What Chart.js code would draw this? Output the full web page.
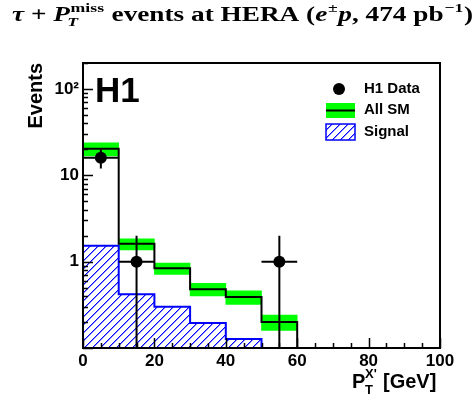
<!DOCTYPE html>
<html>
<head>
<meta charset="utf-8">
<script src="https://cdn.jsdelivr.net/npm/chart.js@4.4.1/dist/chart.umd.min.js"></script>
<style>
  html, body { margin: 0; padding: 0; background: #fff; }
  canvas { display: block; }
</style>
</head>
<body>
<canvas id="chart" width="476" height="400"></canvas>
<script>
// histogram bins (GeV) and values
const binEdges = [0, 10, 20, 30, 40, 50, 60];
const smValues = [20.3, 1.61, 0.84, 0.48, 0.39, 0.20];
const smBandLow = [16.8, 1.37, 0.71, 0.40, 0.32, 0.16];
const smBandHigh = [23.8, 1.84, 0.96, 0.56, 0.46, 0.24];
const signalValues = [1.53, 0.42, 0.30, 0.195, 0.127, 0.1];

// H1 data points
const dataX = [5, 15, 55];
const dataY = [16, 1, 1];
const dataXErr = [5, 5, 5];
const dataErrLow = [4, 1, 1];
const dataErrHigh = [4, 1, 1];

// axes
const xMin = 0, xMax = 100;
const yMin = 0.1, yMax = 200;
const xTickLabels = [0, 20, 40, 60, 80, 100];
const yTickLabels = [1, 10, 100];

const FONT = "'Liberation Sans', Arial, Helvetica, sans-serif";
const SERIF = "'Liberation Serif', 'Times New Roman', serif";

// blue "/" hatch, drawn pixel by pixel so it stays crisp
function makeHatch() {
  const s = 8;
  const c = document.createElement('canvas');
  c.width = s; c.height = s;
  const g = c.getContext('2d');
  for (let i = 0; i < s; i++) {
    g.fillStyle = '#0000ff';
    g.fillRect(i, s - 1 - i, 1, 1);
    g.fillStyle = 'rgba(0,0,255,0.45)';
    g.fillRect((i + 1) % s, s - 1 - i, 1, 1);
  }
  return g.createPattern(c, 'repeat');
}
const hatch = makeHatch();

// bin values -> outline points for a stepped line
function stepPoints(values) {
  const n = values.length;
  const pts = [{x: binEdges[0], y: yMin}];
  for (let i = 0; i < n; i++) pts.push({x: binEdges[i], y: values[i]});
  pts.push({x: binEdges[n], y: values[n - 1]});
  pts.push({x: binEdges[n], y: yMin});
  return pts;
}

const bandData = smBandLow.map((lo, i) => ({x: (binEdges[i] + binEdges[i + 1]) / 2, y: [lo, smBandHigh[i]]}));
const pointData = dataX.map((x, i) => ({x: x, y: dataY[i]}));

const decor = {
  id: 'decor',
  afterDatasetsDraw(chart) {
    const ctx = chart.ctx;
    const a = chart.chartArea;
    const xs = chart.scales.x, ys = chart.scales.y;
    ctx.save();

    // error bars
    ctx.strokeStyle = '#000';
    ctx.lineWidth = 2;
    ctx.beginPath();
    for (let i = 0; i < dataX.length; i++) {
      const px = xs.getPixelForValue(dataX[i]);
      const py = ys.getPixelForValue(dataY[i]);
      const lo = dataY[i] - dataErrLow[i];
      const pLo = lo > yMin ? ys.getPixelForValue(lo) : a.bottom;
      const pHi = ys.getPixelForValue(dataY[i] + dataErrHigh[i]);
      ctx.moveTo(px, pLo); ctx.lineTo(px, pHi);
      ctx.moveTo(xs.getPixelForValue(dataX[i] - dataXErr[i]), py);
      ctx.lineTo(xs.getPixelForValue(dataX[i] + dataXErr[i]), py);
    }
    ctx.stroke();

    // inner ticks
    ctx.lineWidth = 1.5;
    ctx.beginPath();
    for (let d = yMin; d <= yMax; d *= 10) {
      for (let k = 1; k <= 9; k++) {
        const v = k * d;
        if (v < yMin * 0.999 || v > yMax * 1.001) continue;
        const p = Math.round(ys.getPixelForValue(v)) + 0.5;
        ctx.moveTo(a.left, p); ctx.lineTo(a.left + (k === 1 ? 10 : 5), p);
      }
    }
    for (let v = xMin; v <= xMax; v += 5) {
      const p = Math.round(xs.getPixelForValue(v)) + 0.5;
      ctx.moveTo(p, a.bottom); ctx.lineTo(p, a.bottom - (v % 20 === 0 ? 10 : 5));
    }
    ctx.stroke();

    // frame
    ctx.lineWidth = 2;
    ctx.strokeRect(a.left, a.top, a.right - a.left, a.bottom - a.top);

    // legend
    ctx.fillStyle = '#000';
    ctx.beginPath();
    ctx.arc(339, 89, 6, 0, Math.PI * 2);
    ctx.fill();
    ctx.fillStyle = '#00ff00';
    ctx.fillRect(326, 103, 29, 15);
    ctx.strokeStyle = '#000';
    ctx.lineWidth = 2;
    ctx.beginPath(); ctx.moveTo(326, 110.5); ctx.lineTo(355, 110.5); ctx.stroke();
    ctx.fillStyle = hatch;
    ctx.fillRect(326, 124, 29, 16);
    ctx.strokeStyle = '#0000ff';
    ctx.lineWidth = 1.5;
    ctx.strokeRect(326, 124, 29, 16);

    ctx.fillStyle = '#000';
    ctx.font = 'bold 15px ' + FONT;
    ctx.textBaseline = 'middle';
    ctx.textAlign = 'left';
    ctx.fillText('H1 Data', 364, 89);
    ctx.fillText('All SM', 364, 110);
    ctx.fillText('Signal', 364, 132);

    // H1 label
    ctx.textBaseline = 'alphabetic';
    ctx.font = 'bold 35px ' + FONT;
    ctx.fillText('H1', 95, 102);

    // y title
    ctx.save();
    ctx.translate(41.5, 63);
    ctx.rotate(-Math.PI / 2);
    ctx.textAlign = 'right';
    ctx.font = 'bold 20px ' + FONT;
    ctx.fillText('Events', 0, 0);
    ctx.restore();

    // x title
    ctx.font = 'bold 20px ' + FONT;
    ctx.fillText('P', 352, 388);
    ctx.font = 'bold 13px ' + FONT;
    ctx.fillText('T', 365, 394);
    ctx.fillText("X'", 365, 378);
    ctx.font = 'bold 20px ' + FONT;
    ctx.fillText('[GeV]', 383, 388);

    // title
    const segs = [
      {t: '\u03c4', it: true},
      {t: ' + '},
      {t: 'P', it: true},
      {t: 'miss', sup: true, sub: 'T'},
      {t: ' events at HERA ('},
      {t: 'e', it: true},
      {t: '\u00b1', sup: true},
      {t: 'p', it: true},
      {t: ', 474 pb'},
      {t: '\u22121', sup: true},
      {t: ')'}
    ];
    const big = 20, small = 13;
    const fontFor = (s) => (s.it ? 'italic ' : '') + 'bold ' + (s.sup ? small : big) + 'px ' + SERIF;
    let total = 0;
    segs.forEach(s => {
      ctx.font = fontFor(s);
      let w = ctx.measureText(s.t).width;
      if (s.sub) { ctx.font = 'italic bold ' + small + 'px ' + SERIF; w = Math.max(w, ctx.measureText(s.sub).width); }
      s.w = w + (s.sup ? 1 : 0);
      total += s.w;
    });
    const x0 = 12, x1 = 473;
    const sx = (x1 - x0) / total;
    ctx.save();
    ctx.translate(x0, 21);
    ctx.scale(sx, 1);
    let cx = 0;
    segs.forEach(s => {
      ctx.font = fontFor(s);
      ctx.fillText(s.t, cx + (s.sup ? 0.5 : 0), s.sup ? -9 : 0);
      if (s.sub) {
        ctx.font = 'italic bold ' + small + 'px ' + SERIF;
        ctx.fillText(s.sub, cx - 2, 5);
      }
      cx += s.w;
    });
    ctx.restore();

    ctx.restore();
  }
};

new Chart(document.getElementById('chart'), {
  type: 'bar',
  data: {
    datasets: [
      {
        type: 'line',
        label: 'H1 Data',
        data: pointData,
        showLine: false,
        pointRadius: 6,
        pointHoverRadius: 6,
        pointBackgroundColor: '#000',
        pointBorderWidth: 0,
        order: 0
      },
      {
        type: 'line',
        label: 'All SM',
        data: stepPoints(smValues),
        stepped: 'before',
        borderColor: '#000',
        borderWidth: 2,
        pointRadius: 0,
        fill: false,
        order: 1
      },
      {
        type: 'line',
        label: 'Signal',
        data: stepPoints(signalValues),
        stepped: 'before',
        borderColor: '#0000ff',
        borderWidth: 2,
        backgroundColor: hatch,
        pointRadius: 0,
        fill: 'start',
        order: 2
      },
      {
        type: 'bar',
        label: 'SM uncertainty',
        data: bandData,
        backgroundColor: '#00ff00',
        borderWidth: 0,
        grouped: false,
        barPercentage: 1,
        categoryPercentage: 1,
        order: 3
      }
    ]
  },
  options: {
    responsive: false,
    devicePixelRatio: 1,
    animation: false,
    layout: { padding: { top: 63, right: 36, left: 0, bottom: 0 } },
    plugins: { legend: { display: false }, tooltip: { enabled: false }, title: { display: false } },
    scales: {
      x: {
        type: 'linear',
        offset: false,
        min: xMin,
        max: xMax,
        grid: { display: false, drawTicks: false, offset: false },
        border: { display: false },
        afterBuildTicks: (s) => { s.ticks = xTickLabels.map(v => ({value: v})); },
        afterFit: (s) => { s.height = 52; },
        ticks: {
          autoSkip: false,
          maxRotation: 0,
          padding: 3,
          color: '#000',
          font: { family: FONT, size: 17, weight: 'bold' },
          callback: (v) => String(v)
        }
      },
      y: {
        type: 'logarithmic',
        min: yMin,
        max: yMax,
        grid: { display: false, drawTicks: false },
        border: { display: false },
        afterBuildTicks: (s) => { s.ticks = yTickLabels.map(v => ({value: v})); },
        afterFit: (s) => { s.width = 83; },
        ticks: {
          autoSkip: false,
          padding: 4,
          color: '#000',
          font: { family: FONT, size: 17, weight: 'bold' },
          callback: (v) => v === 100 ? '10\u00b2' : String(v)
        }
      }
    }
  },
  plugins: [decor]
});
</script>
</body>
</html>
